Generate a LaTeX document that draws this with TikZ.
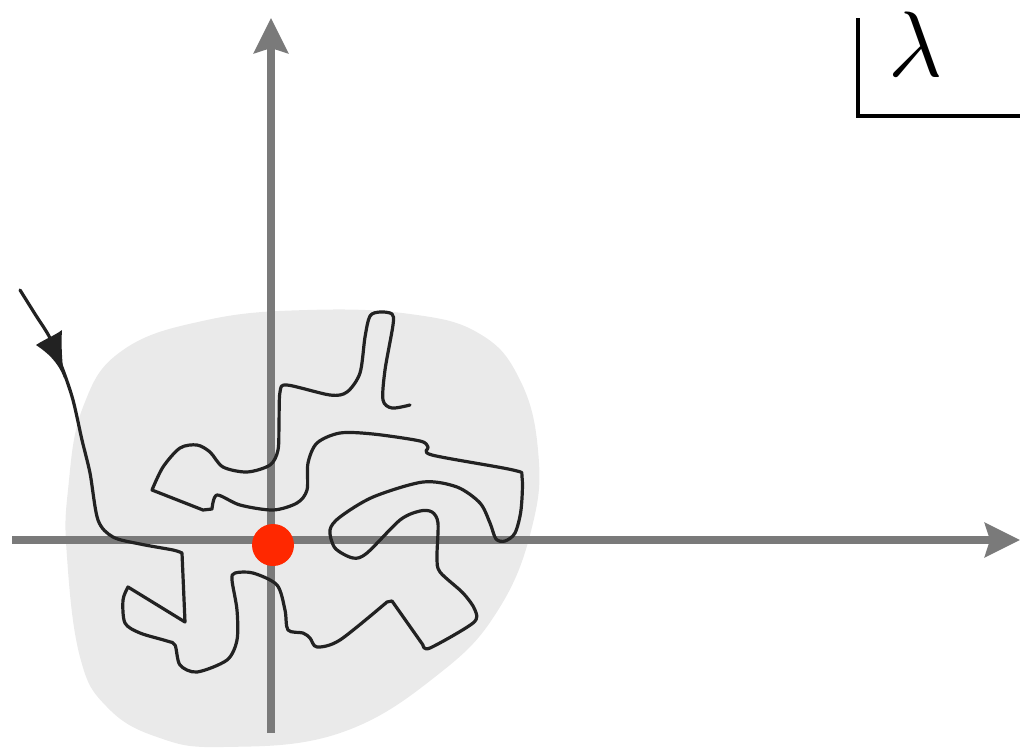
\documentclass[tikz,border=0pt]{standalone}
\usetikzlibrary{arrows.meta}
\definecolor{blobgray}{HTML}{EAEAEA}
\definecolor{axisgray}{HTML}{7A7A7A}
\definecolor{dotred}{HTML}{FF2800}
\definecolor{curveblack}{HTML}{222222}
\tikzset{
  axisline/.style={draw=axisgray, line width=7.5pt, -{Stealth[length=35pt,width=34pt,inset=5pt]}},
  curveline/.style={draw=curveblack, line width=3.2pt, line join=round, line cap=round},
  framebar/.style={draw=black, line width=4pt},
}
\begin{document}
\begin{tikzpicture}[x=1pt,y=-1pt]
\useasboundingbox (0,0) rectangle (1020,748);
% grey region
\fill[blobgray] plot[smooth cycle, tension=0.7] coordinates {
  (307,310) (410,314) (480,334) (520,380) (538,450) (533,523) (500,607)
  (440,673) (340,733) (223,747) (157,737) (107,707) (80,657) (67,557)
  (68,490) (83,407) (123,350) (207,320)};
% axes
\draw[axisline] (12,540) -- (1020,540) coordinate (xtip);
\draw[axisline] (271,733) -- (271,18) coordinate (ytip);
% random path
\draw[curveline]
  plot[smooth, tension=0.5] coordinates {(20,290) (35,314) (50,338) (63,370) (73,400) (82,440) (90,473) (98,520) (113,537) (140,544) (173,550) (182,553)}
  -- (185,622) -- (128,587)
  -- plot[smooth, tension=0.5] coordinates {(128,587) (123,600) (125,623) (140,633) (167,641) (175,645) (180,665) (197,672) (227,660) (237,640) (237,610) (232,580) (235,573) (253,573) (277,585) (285,610) (288,630) (303,633) (310,638) (317,647) (340,640) (387,602)}
  -- (392,601) -- (423,645)
  -- plot[smooth, tension=0.5] coordinates {(423,645) (430,648) (473,623) (475,610) (463,593) (440,572) (437,557) (438,523) (432,512) (420,511) (400,520) (367,553) (353,558) (335,548) (330,530) (340,517) (373,497) (423,482) (457,487) (480,503) (490,523) (496,539) (505,541) (515,533) (521,510) (522,477) (513,470) (432,455) (428,447) (420,441) (373,434) (340,433) (317,443) (308,463) (307,490) (297,503) (273,510) (240,505) (217,495) (212,509)}
  -- (203,510) -- (152,490)
  -- plot[smooth, tension=0.5] coordinates {(152,490) (163,467) (180,448) (197,445) (210,452) (223,467) (247,472) (270,465) (278,450) (279,423) (280,392) (287,385) (330,395) (347,392) (360,373) (365,337) (370,316) (380,312) (392,314) (393,325) (385,370) (383,400) (392,408) (410,405)};
% arrowhead on the path
\fill[curveblack] (36,345) .. controls (45,339) and (54,336) .. (62,330)
  .. controls (61,345) and (62,360) .. (64,378)
  .. controls (58,362) and (48,353) .. cycle;
% origin
\fill[dotred] (273,545) circle (21);
% lambda corner
\coordinate (fa) at (858,18);
\coordinate (fb) at (858,116);
\coordinate (fc) at (1020,116);
\draw[framebar] (fa) -- (fb) -- (fc);
\node[scale=9.3, inner sep=0pt] (lam) at (916,44) {$\lambda$};
\end{tikzpicture}
\end{document}
